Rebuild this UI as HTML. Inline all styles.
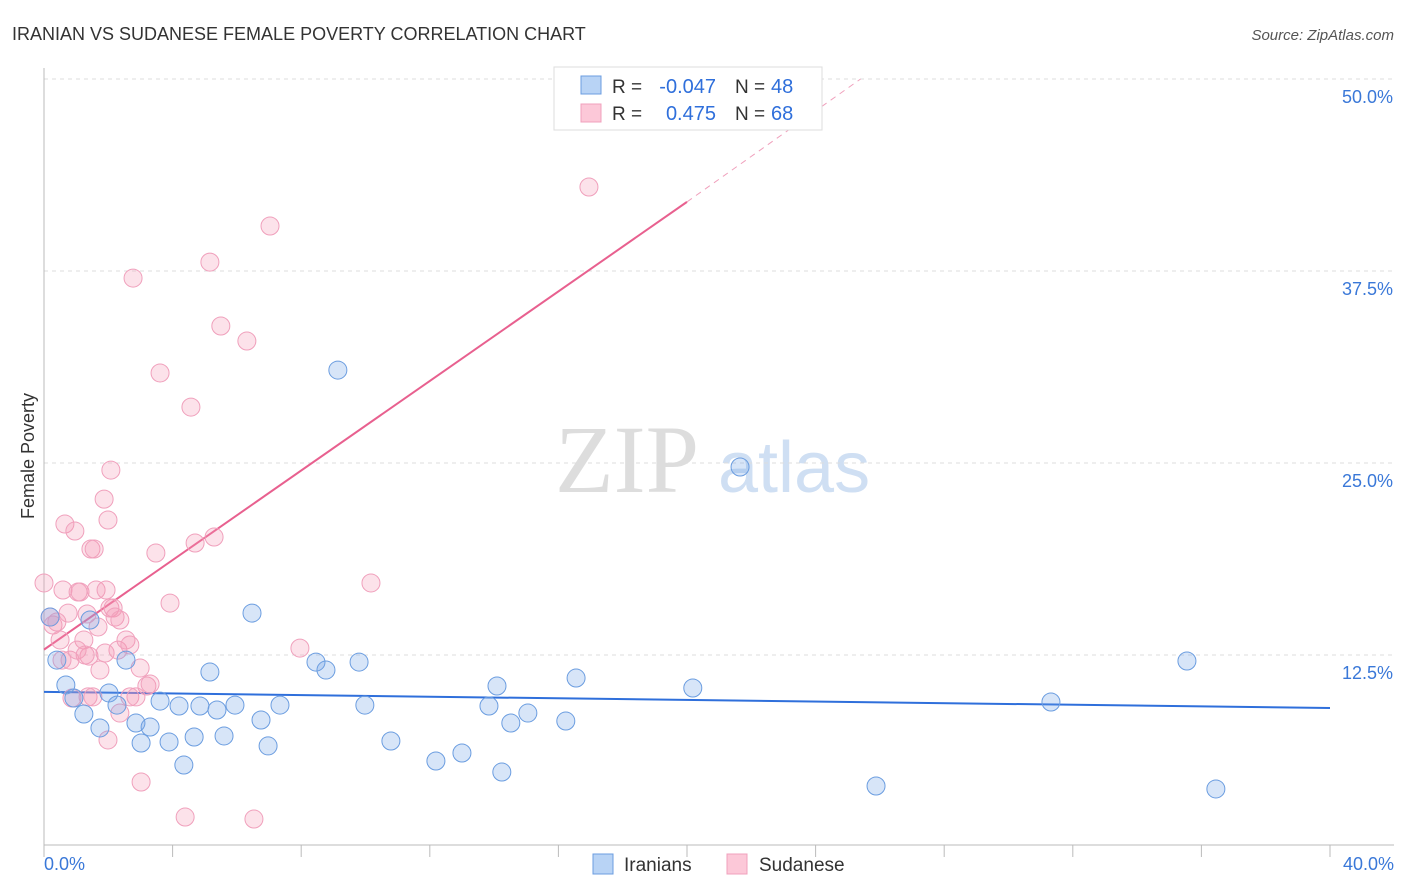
<!DOCTYPE html>
<html><head><meta charset="utf-8"><style>
body{margin:0;background:#fff;font-family:"Liberation Sans",sans-serif;}
svg{display:block}
</style></head><body>
<svg id="chart" width="1406" height="892">
<text x="12" y="40" font-size="18" fill="#333">IRANIAN VS SUDANESE FEMALE POVERTY CORRELATION CHART</text>
<text x="1394" y="40" font-size="15" fill="#555" font-style="italic" text-anchor="end">Source: ZipAtlas.com</text>
<text x="34" y="456" font-size="18" fill="#333" text-anchor="middle" transform="rotate(-90 34 456)">Female Poverty</text>
<g>
<text x="555" y="492" font-size="96" fill="#ddd" font-family="Liberation Serif,serif">ZIP</text>
<text x="718" y="492" font-size="72" fill="#cfdff3">atlas</text>
</g>
<g id="grid"></g><g id="axes"></g><g id="lines"></g><g id="pts"></g>
<g>
<rect x="554" y="67" width="268" height="63" fill="#fff" stroke="#ddd"/>
<rect x="581" y="76" width="20" height="18" fill="#b8d3f5" stroke="#6b9de0"/>
<rect x="581" y="104" width="20" height="18" fill="#fcc8d8" stroke="#f0a0bc"/>
<text x="612" y="93" font-size="19" fill="#333">R =</text>
<text x="716" y="93" font-size="20" fill="#2f6fdb" text-anchor="end">-0.047</text>
<text x="735" y="93" font-size="19" fill="#333">N =</text>
<text x="771" y="93" font-size="20" fill="#2f6fdb">48</text>
<text x="612" y="120" font-size="19" fill="#333">R =</text>
<text x="716" y="120" font-size="20" fill="#2f6fdb" text-anchor="end">0.475</text>
<text x="735" y="120" font-size="19" fill="#333">N =</text>
<text x="771" y="120" font-size="20" fill="#2f6fdb">68</text>
</g>
<g>
<rect x="593" y="854" width="20" height="20" fill="#b8d3f5" stroke="#6b9de0"/>
<text x="624" y="871" font-size="19" fill="#333">Iranians</text>
<rect x="727" y="854" width="20" height="20" fill="#fcc8d8" stroke="#f0a0bc"/>
<text x="759" y="871" font-size="19" fill="#333">Sudanese</text>
</g>
</svg>
<script>
const yTicks=[12.5,25,37.5,50];
const yTickLabels=["12.5%","25.0%","37.5%","50.0%"];
const xTickLabels=["0.0%","40.0%"];
const blueX=[0.19,0.40,0.68,0.93,1.24,1.43,1.74,2.02,2.27,2.55,2.86,3.02,3.30,3.61,3.89,4.20,4.35,4.67,4.85,5.16,5.38,5.60,5.94,6.47,6.75,6.97,7.34,8.46,8.77,9.14,9.80,9.98,10.79,12.19,13.00,13.84,14.09,14.24,14.52,15.05,16.23,16.55,20.18,21.65,25.88,31.32,35.55,36.45];
const blueY=[14.97,12.17,10.55,9.70,8.66,14.78,7.75,10.03,9.24,12.17,8.07,6.77,7.81,9.50,6.84,9.18,5.34,7.16,9.18,11.39,8.92,7.23,9.24,15.23,8.27,6.58,9.24,12.04,11.52,31.05,12.04,9.24,6.90,5.60,6.12,9.18,10.48,4.88,8.07,8.72,8.20,11.00,10.35,24.74,3.97,9.44,12.11,3.78];
const pinkX=[0,0.19,0.28,0.50,0.59,0.65,0.75,0.81,0.96,1.06,1.12,1.24,1.34,1.40,1.46,1.56,1.62,1.68,1.74,1.87,1.93,1.99,2.05,2.08,2.15,2.21,2.30,2.36,2.55,2.67,2.77,2.99,3.02,3.20,3.30,3.48,3.61,3.92,4.39,4.57,4.70,5.16,5.29,5.50,6.31,6.53,7.03,7.96,10.17,16.95,0.40,0.56,0.87,1.37,1.52,1.99,2.67,2.86,1.90,1.03,1.28,2.36];
const pinkY=[17.19,14.97,14.45,13.48,16.73,21.03,15.23,12.17,20.57,16.60,16.60,13.48,15.17,12.43,19.40,19.40,16.73,14.32,11.52,22.65,16.73,21.29,15.56,24.54,15.56,14.97,12.82,8.72,13.48,13.15,37.04,11.65,4.23,10.48,10.61,19.14,30.86,15.88,1.95,28.64,19.79,38.08,20.18,33.92,32.94,1.82,40.43,12.95,17.19,42.97,14.65,12.17,9.70,9.77,9.77,6.97,9.77,9.77,12.63,12.82,12.50,14.78];
const blueLine=[10.1,9.05];
const pinkLine=[12.85,42.0];
const pinkDashEnd=[25.4,50.0];
const NS="http://www.w3.org/2000/svg";
const X=v=>44+v/40*1286, Y=v=>847-v/12.5*192;
function mk(t,a,p){const e=document.createElementNS(NS,t);for(const k in a)e.setAttribute(k,a[k]);p.appendChild(e);return e;}
const grid=document.getElementById('grid'),axes=document.getElementById('axes'),lines=document.getElementById('lines'),pts=document.getElementById('pts');
yTicks.forEach((t,i)=>{
 const l=mk('line',{x1:44,x2:1394,y1:Y(t),y2:Y(t),stroke:'#ddd','stroke-dasharray':'4,4'},grid);
 
 
 const tx=mk('text',{x:1393,y:Y(t)+24,'font-size':18,fill:'#3a78d8','text-anchor':'end'},grid);
 tx.textContent=yTickLabels[i];
 
 
});
mk('line',{x1:44,x2:44,y1:68,y2:845,stroke:'#bbb'},axes);
mk('line',{x1:44,x2:1394,y1:845,y2:845,stroke:'#bbb'},axes);
for(let i=0;i<=10;i++){mk('line',{x1:X(i*4),x2:X(i*4),y1:845,y2:857,stroke:'#bbb'},axes);}
[[0,'start',44],[1,'end',1394]].forEach(([i,a,x])=>{const t=mk('text',{x:x,y:870,'font-size':18,fill:'#3a78d8','text-anchor':a},axes);t.textContent=xTickLabels[i];
 
 });
const bl=mk('line',{x1:X(0),y1:Y(blueLine[0]),x2:X(40),y2:Y(blueLine[1]),stroke:'#2f6fdb','stroke-width':2},lines);


const pl=mk('line',{x1:X(0),y1:Y(pinkLine[0]),x2:X(20),y2:Y(pinkLine[1]),stroke:'#e8608f','stroke-width':2},lines);


const pd=mk('line',{x1:X(20),y1:Y(pinkLine[1]),x2:X(pinkDashEnd[0]),y2:Y(pinkDashEnd[1]),stroke:'#f0a0bc','stroke-width':1,'stroke-dasharray':'6,5'},lines);


pinkX.forEach((x,i)=>{const c=mk('circle',{cx:X(x),cy:Y(pinkY[i]),r:9,fill:'rgba(244,150,180,0.28)',stroke:'#f0a0bc','stroke-width':1},pts);
 
 });
blueX.forEach((x,i)=>{const c=mk('circle',{cx:X(x),cy:Y(blueY[i]),r:9,fill:'rgba(110,160,230,0.28)',stroke:'#6b9de0','stroke-width':1},pts);
 
 });
</script>
</body></html>
